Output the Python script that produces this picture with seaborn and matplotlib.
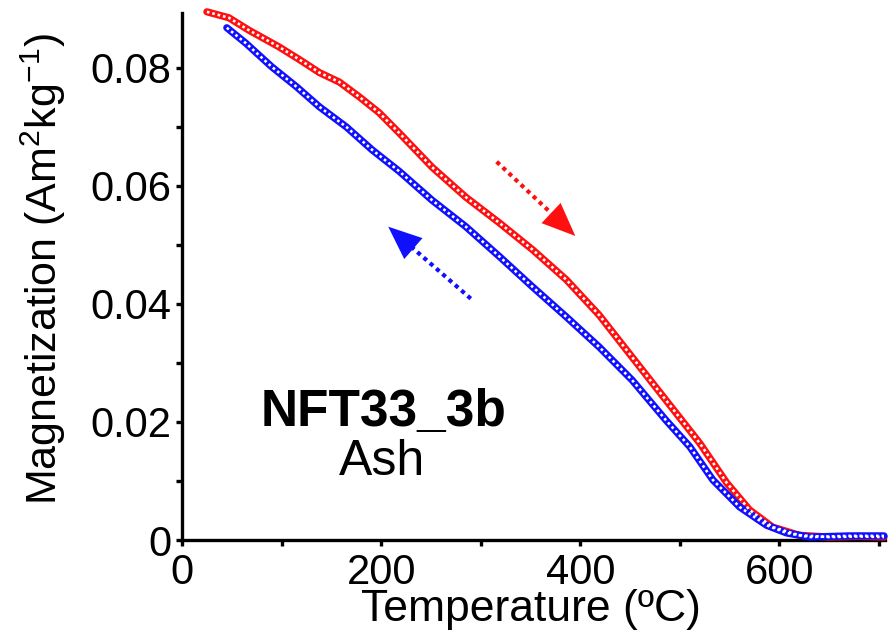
import numpy as np
import matplotlib
matplotlib.use("Agg")
import matplotlib.pyplot as plt
import seaborn as sns

# heating curve (red), temperature in C, magnetization in Am2/kg
heat_T = [25, 47, 67, 97, 118, 138, 158, 178, 198, 218, 251, 285, 319, 352, 386,
          419, 452, 486, 520, 547, 570, 593, 620, 650, 680, 705]
heat_M = [0.0895, 0.0885, 0.0864, 0.0836, 0.0814, 0.0792, 0.0776, 0.0751, 0.0724,
          0.0690, 0.0632, 0.0581, 0.0537, 0.0492, 0.0441, 0.0381, 0.0310, 0.0237,
          0.0164, 0.0097, 0.0051, 0.0022, 0.0008, 0.0005, 0.0006, 0.0005]

# cooling curve (blue)
cool_T = [45, 64, 90, 115, 138, 165, 191, 218, 251, 285, 319, 352, 386, 419, 452,
          486, 510, 533, 560, 587, 607, 630, 670, 700, 705]
cool_M = [0.0868, 0.0842, 0.0802, 0.0768, 0.0734, 0.0700, 0.0661, 0.0625, 0.0576,
          0.0531, 0.0480, 0.0429, 0.0378, 0.0327, 0.0271, 0.0203, 0.0158, 0.0102,
          0.0056, 0.0025, 0.0012, 0.0005, 0.0007, 0.0007, 0.0007]

# direction arrows: (tail T, tail M, tip T, tip M)
heat_arrow = (316, 0.0641, 397, 0.0512)
cool_arrow = (290, 0.0409, 205, 0.0534)

RED, BLUE = "#ff1010", "#1010ff"

sns.set_style("ticks")
plt.rcParams["font.family"] = ["Liberation Sans", "DejaVu Sans"]
plt.rcParams["mathtext.fontset"] = "custom"
plt.rcParams["mathtext.rm"] = "Liberation Sans"
plt.rcParams["text.color"] = "black"
plt.rcParams["axes.labelcolor"] = "black"

W, H = 889, 638
fig = plt.figure(figsize=(W / 100, H / 100), dpi=100)
ax = fig.add_axes([182 / W, 1 - 540 / H, 703 / W, 527 / H])


def chain(T, M, color):
    # thick coloured band with white dotted core -> looks like chain of open circles
    sns.lineplot(x=T, y=M, sort=False, ax=ax, color=color, lw=5.2,
                 solid_capstyle="round", clip_on=False, zorder=3)
    ax.plot(T, M, color="white", lw=1.9, ls=(0, (1.0, 1.1)), clip_on=False, zorder=4)


chain(heat_T, heat_M, RED)
chain(cool_T, cool_M, BLUE)


def arrow(a, color):
    t0, m0, t1, m1 = a
    f = 0.78
    ax.plot([t0, t0 + f * (t1 - t0)], [m0, m0 + f * (m1 - m0)], color=color,
            lw=3.0, ls=(0, (1, 1)), zorder=6)
    g = 0.6
    ax.annotate("", xy=(t1, m1), xytext=(t0 + g * (t1 - t0), m0 + g * (m1 - m0)),
                arrowprops=dict(arrowstyle="-|>,head_length=1.2,head_width=0.5",
                                color=color, lw=0, mutation_scale=20), zorder=6)


arrow(heat_arrow, RED)
arrow(cool_arrow, BLUE)

ax.set_xlim(0, 706)
ax.set_ylim(0, 0.0893)
ax.set_xticks([0, 200, 400, 600])
ax.set_xticks([100, 300, 500, 700], minor=True)
ax.set_yticks([0, 0.02, 0.04, 0.06, 0.08])
ax.set_yticks([0.01, 0.03, 0.05, 0.07], minor=True)
ax.set_yticklabels(["0", "0.02", "0.04", "0.06", "0.08"])
ax.tick_params(axis="both", which="both", direction="out", width=2.4, length=4.5,
               labelsize=30, color="black", labelcolor="black")
ax.tick_params(axis="x", which="both", pad=5)
ax.tick_params(axis="y", which="both", pad=3)
for s in ["left", "bottom"]:
    ax.spines[s].set_linewidth(2.4)
    ax.spines[s].set_color("black")
sns.despine(ax=ax)

ax.set_xlabel("Temperature (ºC)", fontsize=32)
ax.xaxis.set_label_coords((531 - 182) / 703, (540 - 610) / 527)
ax.xaxis.label.set_verticalalignment("center")
ax.set_ylabel(r"Magnetization (Am$\mathregular{^2}$kg$\mathregular{^{-1}}$)", fontsize=31)
ax.yaxis.set_label_coords((43 - 182) / 703, (540 - 269) / 527)
ax.yaxis.label.set_verticalalignment("center")

ax.text((384 - 182) / 703, (540 - 412) / 527, "NFT33_3b", transform=ax.transAxes,
        fontsize=37, fontweight="bold", ha="center", va="center")
ax.text((382 - 182) / 703, (540 - 462) / 527, "Ash", transform=ax.transAxes,
        fontsize=36, ha="center", va="center")

fig.savefig("out.png", dpi=100, facecolor="white")
